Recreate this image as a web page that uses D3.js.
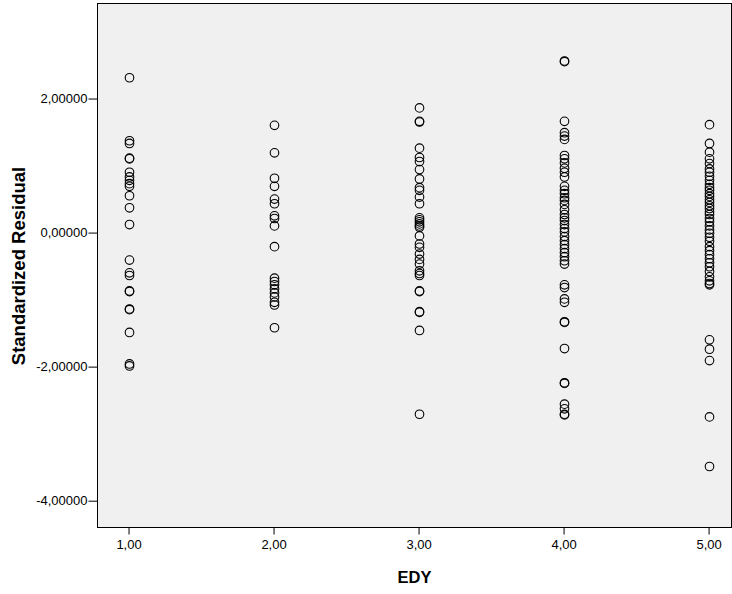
<!DOCTYPE html>
<html>
<head>
<meta charset="utf-8">
<script src="https://cdn.jsdelivr.net/npm/d3@7"></script>
<style>
  html, body { margin: 0; padding: 0; background: #ffffff; }
  svg { display: block; }
  text { font-family: "Liberation Sans", Arial, sans-serif; }
</style>
</head>
<body>
<svg id="chart" width="732" height="594"></svg>
<script>
// Standardized residuals grouped by EDY level
const edyLevels = [1, 2, 3, 4, 5];
const resid1 = [2.31, 1.37, 1.33, 1.11, 1.10, 0.90, 0.83, 0.78, 0.73, 0.69, 0.55, 0.37, 0.12,
  -0.41, -0.60, -0.64, -0.87, -0.88, -1.14, -1.15, -1.49, -1.96, -1.99];
const resid2 = [1.60, 1.19, 0.81, 0.69, 0.50, 0.43, 0.25, 0.21, 0.10, -0.21,
  -0.68, -0.73, -0.78, -0.84, -0.90, -0.96, -1.04, -1.08, -1.42];
const resid3 = [1.86, 1.66, 1.65, 1.26, 1.12, 1.06, 0.94, 0.80, 0.67, 0.63, 0.53, 0.43,
  0.22, 0.19, 0.16, 0.13, 0.10, 0.08, -0.05, -0.17, -0.22, -0.32, -0.40, -0.47,
  -0.57, -0.61, -0.64, -0.87, -0.88, -1.18, -1.19, -1.46, -2.71];
const resid4 = [2.56, 2.55, 1.66, 1.49, 1.44, 1.39, 1.15, 1.10, 1.04, 0.96, 0.90, 0.83,
  0.69, 0.63, 0.58, 0.52, 0.48, 0.42, 0.34, 0.27, 0.22, 0.18, 0.12, 0.06, 0.01,
  -0.06, -0.12, -0.18, -0.24, -0.30, -0.36, -0.42, -0.47, -0.78, -0.82, -0.99, -1.04,
  -1.33, -1.34, -1.73, -2.24, -2.25, -2.56, -2.63, -2.71, -2.72];
const resid5 = [1.61, 1.33, 1.20, 1.10, 1.03, 0.95, 0.90, 0.84, 0.78, 0.72, 0.67, 0.63,
  0.58, 0.54, 0.49, 0.45, 0.40, 0.36, 0.31, 0.27, 0.21, 0.16, 0.10, 0.04, -0.01,
  -0.07, -0.13, -0.21, -0.27, -0.33, -0.39, -0.45, -0.51, -0.58, -0.66, -0.72, -0.76,
  -0.78, -1.60, -1.74, -1.91, -2.75, -3.49];
const residGroups = [resid1, resid2, resid3, resid4, resid5];
const yTicks = [2, 0, -2, -4];
const xTicks = [1, 2, 3, 4, 5];
const xTitle = "EDY";
const yTitle = "Standardized Residual";

const points = [];
residGroups.forEach((g, i) => g.forEach(v => points.push({ x: edyLevels[i], y: v })));

// comma decimal separator, plain hyphen for negatives
const commaFormat = digits => d =>
  d3.format(`.${digits}f`)(d).replace(".", ",").replace("\u2212", "-");

const svg = d3.select("#chart");
const plot = { left: 97.5, top: 3.5, right: 731.5, bottom: 527.5 };

const x = d3.scaleLinear().domain([0.786, 5.158]).range([plot.left, plot.right]);
const y = d3.scaleLinear().domain([-4.40, 3.418]).range([plot.bottom, plot.top]);

// plot area
svg.append("rect")
  .attr("x", plot.left).attr("y", plot.top)
  .attr("width", plot.right - plot.left).attr("height", plot.bottom - plot.top)
  .attr("fill", "#f0f0f0").attr("stroke", "#000").attr("stroke-width", 1);

// y axis
const yAxis = d3.axisLeft(y).tickValues(yTicks).tickSize(9).tickPadding(1)
  .tickFormat(commaFormat(5));
const gy = svg.append("g").attr("transform", `translate(${plot.left},0)`).call(yAxis);
gy.select(".domain").remove();
gy.selectAll("line").attr("stroke", "#000");
gy.selectAll("text").attr("font-size", 13).attr("fill", "#000")
  .attr("font-family", "Liberation Sans, Arial, sans-serif");

// x axis
const xAxis = d3.axisBottom(x).tickValues(xTicks).tickSize(7).tickPadding(5)
  .tickFormat(commaFormat(2));
const gx = svg.append("g").attr("transform", `translate(0,${plot.bottom})`).call(xAxis);
gx.select(".domain").remove();
gx.selectAll("line").attr("stroke", "#000");
gx.selectAll("text").attr("font-size", 13).attr("fill", "#000")
  .attr("font-family", "Liberation Sans, Arial, sans-serif");

// points
svg.append("g").selectAll("circle").data(points).join("circle")
  .attr("cx", d => Math.round(x(d.x)) + 0.5)
  .attr("cy", d => y(d.y))
  .attr("r", 4.3)
  .attr("fill", "none")
  .attr("stroke", "#000")
  .attr("stroke-width", 1.1);

// titles
svg.append("text")
  .attr("x", (plot.left + plot.right) / 2)
  .attr("y", 583)
  .attr("text-anchor", "middle")
  .attr("font-size", 16.5).attr("font-weight", "bold")
  .text(xTitle);

svg.append("text")
  .attr("transform", `translate(25,266) rotate(-90)`)
  .attr("text-anchor", "middle")
  .attr("font-size", 18.5).attr("font-weight", "bold")
  .text(yTitle);
</script>
</body>
</html>
